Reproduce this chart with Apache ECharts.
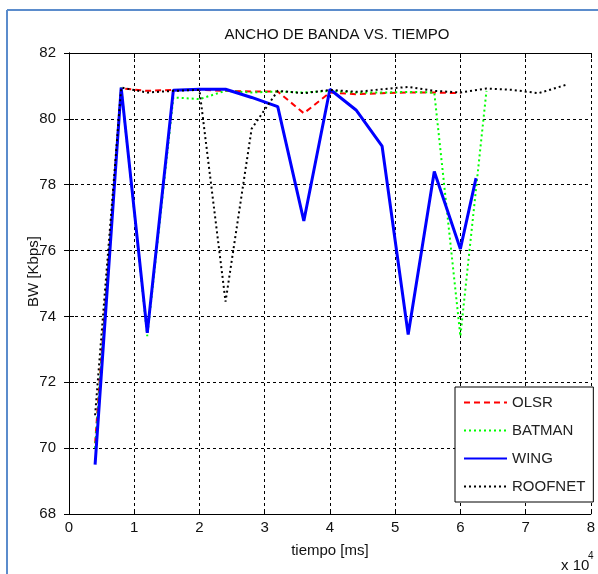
<!DOCTYPE html>
<html>
<head>
<meta charset="utf-8">
<script src="https://cdn.jsdelivr.net/npm/echarts@6/dist/echarts.min.js"></script>
<style>
  html, body { margin: 0; padding: 0; background: #fff; }
  #chart { width: 598px; height: 574px; }
</style>
</head>
<body>
<div id="chart"></div>
<script>
const FONT = "'Liberation Sans', Arial, sans-serif";

// tiempo [ms] y BW [Kbps]
const olsrTime = [4000, 8000, 12000, 16000, 20000, 24000, 28000, 32000, 36000, 40000, 44000, 48000, 52000, 56000, 60000];
const olsrBw = [70.15, 80.93, 80.85, 80.88, 80.88, 80.85, 80.83, 80.83, 80.17, 80.8, 80.75, 80.78, 80.8, 80.8, 80.78];

const batmanTime = [4000, 8000, 12000, 16000, 20000, 24000, 28000, 32000, 36000, 40000, 44000, 48000, 52000, 56000, 60000, 64000];
const batmanBw = [70.0, 80.95, 73.4, 80.65, 80.6, 80.85, 80.8, 80.83, 80.8, 80.85, 80.8, 80.8, 80.82, 80.8, 73.4, 80.85];

const wingTime = [4000, 8000, 12000, 16000, 20000, 24000, 28000, 32000, 36000, 40000, 44000, 48000, 52000, 56000, 60000, 62400];
const wingBw = [69.5, 80.95, 73.5, 80.87, 80.9, 80.9, 80.65, 80.37, 76.9, 80.9, 80.27, 79.17, 73.45, 78.4, 76.05, 78.2];

const roofnetTime = [4000, 8000, 12000, 16000, 20000, 24000, 28000, 32000, 36000, 40000, 44000, 48000, 52000, 56000, 60000, 64000, 68000, 72000, 76500];
const roofnetBw = [71.0, 80.95, 80.8, 80.85, 80.88, 74.45, 79.7, 80.85, 80.78, 80.88, 80.82, 80.9, 80.97, 80.85, 80.8, 80.92, 80.88, 80.78, 81.05];

const seriesNames = ['OLSR', 'BATMAN', 'WING', 'ROOFNET'];

const pairs = (xs, ys) => xs.map((x, i) => [x, ys[i]]);

const chart = echarts.init(document.getElementById('chart'));

const gridLine = { show: true, lineStyle: { color: '#000', type: [3, 3], width: 1 } };
const boxAxis = {
  axisLine: { show: true, lineStyle: { color: '#000', width: 1 } },
  axisTick: { show: true, inside: true, length: 5, lineStyle: { color: '#000' } },
  axisLabel: { show: false },
  splitLine: { show: false },
};

const lineSeries = (name, data, color, type, width) => ({
  name,
  type: 'line',
  data,
  symbol: 'none',
  showSymbol: false,
  animation: false,
  lineStyle: { color, type, width },
  itemStyle: { color },
});

chart.setOption({
  animation: false,
  backgroundColor: '#fff',
  title: {
    text: 'ANCHO DE BANDA VS. TIEMPO',
    left: 332, top: 22, textAlign: 'center',
    textStyle: { fontFamily: FONT, fontSize: 15, fontWeight: 'normal', color: '#111' },
  },
  grid: { left: 69, right: 3, top: 53, bottom: 60 },
  legend: {
    data: seriesNames,
    orient: 'vertical',
    left: 455, top: 387,
    padding: [8, 8, 8, 8],
    itemWidth: 43, itemHeight: 14, itemGap: 13,
    itemStyle: { opacity: 0 },
    borderColor: '#000', borderWidth: 1,
    backgroundColor: '#fff',
    textStyle: { fontFamily: FONT, fontSize: 15, color: '#222' },
  },
  xAxis: [
    {
      type: 'value', min: 0, max: 80000, interval: 10000,
      name: 'tiempo [ms]', nameLocation: 'middle', nameGap: 29,
      nameTextStyle: { fontFamily: FONT, fontSize: 15, color: '#111' },
      axisLine: { show: true, onZero: false, lineStyle: { color: '#000' } },
      axisTick: { show: true, inside: true, length: 5, lineStyle: { color: '#000' } },
      axisLabel: { fontFamily: FONT, fontSize: 15, color: '#111', margin: 6, formatter: v => String(v / 10000) },
      splitLine: gridLine,
    },
    Object.assign({ type: 'value', min: 0, max: 80000, interval: 10000, position: 'top' }, boxAxis),
  ],
  yAxis: [
    {
      type: 'value', min: 68, max: 82, interval: 2,
      name: 'BW [Kbps]', nameLocation: 'middle', nameGap: 28, nameMoveOverlap: false,
      nameTextStyle: { fontFamily: FONT, fontSize: 15, color: '#111', padding: [0, 0, 0, 24] },
      axisLine: { show: true, onZero: false, lineStyle: { color: '#000' } },
      axisTick: { show: true, inside: true, length: 5, lineStyle: { color: '#000' } },
      axisLabel: { fontFamily: FONT, fontSize: 15, color: '#111', margin: 13 },
      splitLine: gridLine,
    },
    Object.assign({ type: 'value', min: 68, max: 82, interval: 2, position: 'right' }, boxAxis),
  ],
  graphic: [
    { type: 'line', shape: { x1: 7, y1: 10, x2: 598, y2: 10 }, style: { stroke: '#5b8ccc', lineWidth: 2 } },
    { type: 'line', shape: { x1: 7, y1: 10, x2: 7, y2: 574 }, style: { stroke: '#5b8ccc', lineWidth: 2 } },
    { type: 'text', left: 561, top: 558, style: { text: 'x 10', fontFamily: FONT, fontSize: 15, fill: '#111' } },
    { type: 'text', left: 588, top: 551, style: { text: '4', fontFamily: FONT, fontSize: 10, fill: '#111' } },
  ],
  series: [
    lineSeries('OLSR', pairs(olsrTime, olsrBw), '#ff0000', [6, 4], 2),
    lineSeries('BATMAN', pairs(batmanTime, batmanBw), '#00ff00', [2, 3], 2),
    lineSeries('WING', pairs(wingTime, wingBw), '#0000ff', 'solid', 3),
    lineSeries('ROOFNET', pairs(roofnetTime, roofnetBw), '#000000', [2, 3], 2),
  ],
});
</script>
</body>
</html>
